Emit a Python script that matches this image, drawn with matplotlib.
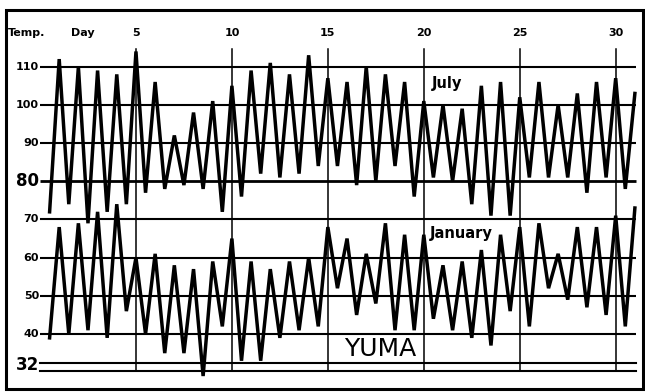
import matplotlib.pyplot as plt
from matplotlib.patches import Rectangle

# Daily extremes at Yuma, degrees F (low comes before the high of the same day)
days = list(range(1, 32))
july_min = [72, 74, 69, 72, 74, 77, 78, 79, 78, 72, 76, 82, 81, 82, 84, 84,
            79, 80, 84, 76, 81, 80, 74, 71, 71, 81, 81, 81, 77, 81, 78]
july_max = [112, 110, 109, 108, 114, 106, 92, 98, 101, 105, 109, 111, 108, 113, 107, 106,
            110, 108, 106, 101, 100, 99, 105, 106, 102, 106, 100, 103, 106, 107, 103]
jan_min = [39, 40, 41, 39, 46, 40, 35, 35, 29, 42, 33, 33, 39, 41, 42, 52,
           45, 48, 41, 41, 44, 41, 39, 37, 46, 42, 52, 49, 47, 45, 42]
jan_max = [68, 69, 72, 74, 60, 61, 58, 57, 59, 65, 59, 57, 59, 60, 68, 65,
           61, 69, 66, 66, 58, 59, 62, 66, 68, 69, 61, 68, 68, 71, 73]

temp_ticks = [110, 100, 90, 80, 70, 60, 50, 40, 32]
day_ticks = [5, 10, 15, 20, 25, 30]


def zigzag(lows, highs):
    xs, ys = [], []
    for d, lo, hi in zip(days, lows, highs):
        xs += [d - 0.5, d]
        ys += [lo, hi]
    return xs, ys


fig = plt.figure(figsize=(6.45, 3.92), dpi=100)
ax = fig.add_axes([0, 0, 1, 1])
ax.set_xlim(-2.085, 31.527)
ax.set_ylim(24.82, 127.47)
ax.axis('off')

# outer frame
ax.add_patch(Rectangle((0.009, 0.008), 0.988, 0.967, transform=ax.transAxes,
                       fill=False, lw=2.2, color='black'))

# horizontal rules
for t in temp_ticks:
    if t == 32:
        continue
    ax.plot([0, 31.05], [t, t], color='black', lw=2.0 if t == 80 else 1.5,
            solid_capstyle='butt')
ax.plot([0, 31.05], [32.3, 32.3], color='black', lw=1.5)
ax.plot([0, 31.05], [30.2, 30.2], color='black', lw=1.5)

# day rules
for d in day_ticks:
    ax.plot([d, d], [114.6, 30.2], color='black', lw=1.1)
    ax.text(d, 118.8, str(d), ha='center', va='center', fontsize=8,
            fontweight='bold')

ax.text(-1.7, 118.8, 'Temp.', ha='left', va='center', fontsize=8, fontweight='bold')
ax.text(1.6, 118.8, 'Day', ha='left', va='center', fontsize=8, fontweight='bold')

for t in temp_ticks:
    big = t in (80, 32)
    ax.text(-0.05, t, str(t), ha='right', va='center',
            fontsize=12 if big else 8, fontweight='bold')

# temperature traces
for lows, highs in ((july_min, july_max), (jan_min, jan_max)):
    xs, ys = zigzag(lows, highs)
    ax.plot(xs, ys, color='black', lw=2.5, solid_joinstyle='miter')

ax.text(20.43, 105.7, 'July', ha='left', va='center', fontsize=10.5, fontweight='bold')
ax.text(20.32, 66.2, 'January', ha='left', va='center', fontsize=10.5, fontweight='bold')
ax.text(17.72, 36.1, 'YUMA', ha='center', va='center', fontsize=18)

fig.savefig('out.png', dpi=100)
